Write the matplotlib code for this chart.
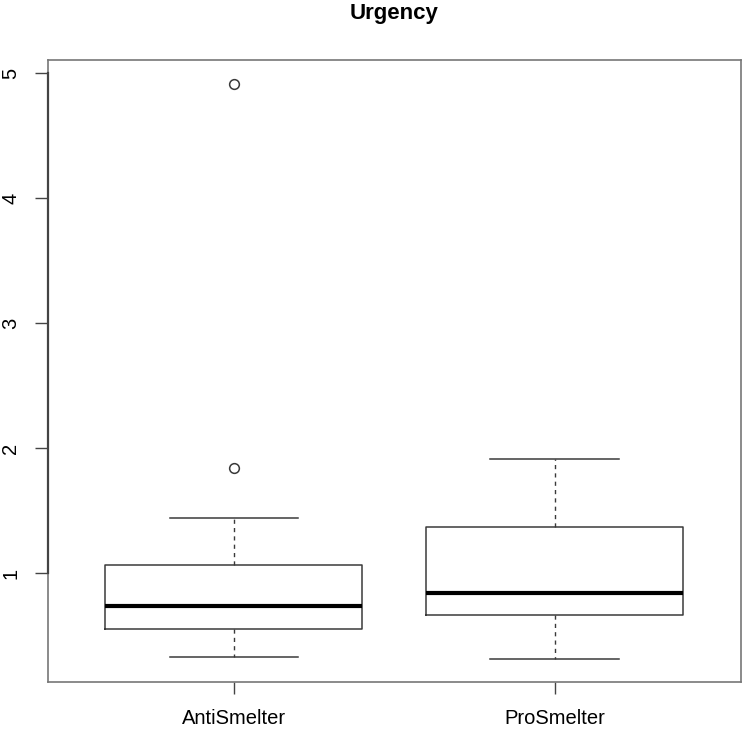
import numpy as np
import matplotlib.pyplot as plt

plt.rcParams['font.family'] = ['Liberation Sans', 'DejaVu Sans']

# valeurs
groupes = ['AntiSmelter', 'ProSmelter']
mediane = [0.735, 0.84]
q1 = [0.557, 0.667]
q3 = [1.064, 1.373]
moust_bas = [0.328, 0.314]
moust_haut = [1.445, 1.917]
aberrants = [[1.845, 4.914], []]

stats = []
for i in range(len(groupes)):
	stats.append({'label': groupes[i], 'med': mediane[i], 'q1': q1[i], 'q3': q3[i],
	              'whislo': moust_bas[i], 'whishi': moust_haut[i], 'fliers': aberrants[i]})

fig = plt.figure(figsize=(7.42, 7.32), dpi=100)
ax = fig.add_axes([47.7/742, 1-681.7/732, (740.7-47.7)/742, (681.7-60)/732])

gris = '#3a3a3a'
ax.bxp(stats, positions=[1, 2], widths=0.8, capwidths=0.4,
       boxprops=dict(color=gris, lw=1.1),
       medianprops=dict(color='black', lw=3),
       whiskerprops=dict(color=gris, lw=1, linestyle=(0, (3, 3))),
       capprops=dict(color=gris, lw=1.1),
       flierprops=dict(marker='o', markersize=7, markerfacecolor='none',
                       markeredgecolor=gris, markeredgewidth=1.1))

ax.set_xlim(0.42, 2.58)
ax.set_ylim(0.133, 5.107)

for s in ax.spines.values():
	s.set_color('#777777')
	s.set_linewidth(1.2)
# ligne d'axe de R, plus foncee entre 1 et 5
ax.plot([ax.get_xlim()[0]]*2, [1, 5], color='#444444', lw=1.6, clip_on=False, zorder=5)

ax.set_yticks([1, 2, 3, 4, 5])
ax.set_yticklabels(['1', '2', '3', '4', '5'], rotation=90, va='center')
ax.set_xticks([1, 2])
ax.set_xticklabels(groupes)
ax.tick_params(axis='y', length=12.7*0.72, width=1, color='#444444', pad=10.5, labelsize=14.5)
ax.tick_params(axis='x', length=11.7*0.72, width=1, color='#444444', pad=11.5, labelsize=14.5)

fig.text((47.7+740.7)/2/742, 1-13/732, 'Urgency', ha='center', va='center',
         fontsize=16, fontweight='bold')

plt.savefig('out.png', dpi=100)
